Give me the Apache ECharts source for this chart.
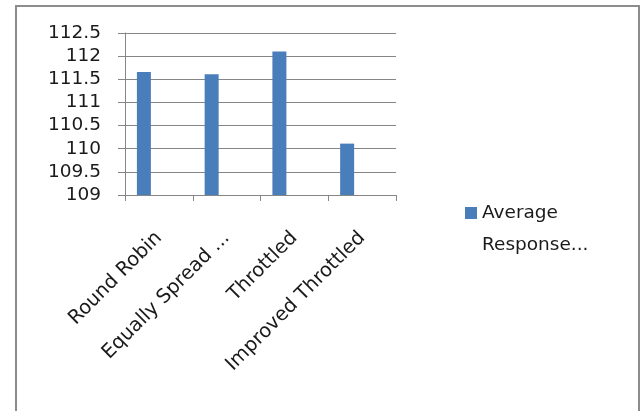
<!DOCTYPE html>
<html>
<head>
<meta charset="utf-8">
<script src="https://cdn.jsdelivr.net/npm/echarts@6/dist/echarts.min.js"></script>
<style>
html,body{margin:0;padding:0;background:#fff;}
#c{width:641px;height:411px;}
</style>
</head>
<body>
<div id="c"></div>
<script>
var categories = ['Round Robin', 'Equally Spread ...', 'Throttled', 'Improved Throttled'];
var seriesName = 'Average Response...';
var legendLines = ['Average', 'Response...'];
var responseValues = [111.66, 111.61, 112.1, 110.11];
var emptySlot = [null, null, null, null];
var yMin = 109, yMax = 112.5, yStep = 0.5;

var chart = echarts.init(document.getElementById('c'), null, {renderer: 'canvas'});
var font = 'DejaVu Sans';
chart.setOption({
  animation: false,
  backgroundColor: '#ffffff',
  graphic: [{
    type: 'rect',
    shape: {x: 16, y: 6, width: 623, height: 420},
    style: {fill: 'none', stroke: '#8c8c8c', lineWidth: 2},
    silent: true,
    z: -1
  }],
  grid: {left: 125, right: 245, top: 33, bottom: 216, containLabel: false},
  legend: {
    data: [seriesName],
    left: 460,
    top: 160,
    orient: 'vertical',
    itemWidth: 12,
    itemHeight: 12,
    icon: 'rect',
    formatter: function () { return ' \n' + legendLines.join('\n'); },
    textStyle: {fontFamily: font, fontSize: 18.5, color: '#1a1a1a', lineHeight: 32}
  },
  xAxis: {
    type: 'category',
    data: categories,
    axisLine: {lineStyle: {color: '#868686', width: 1}},
    axisTick: {show: true, length: 6, lineStyle: {color: '#868686'}},
    axisLabel: {rotate: 45, margin: 40, interval: 0, fontFamily: font, fontSize: 19.5, color: '#1a1a1a'}
  },
  yAxis: {
    type: 'value',
    min: yMin,
    max: yMax,
    interval: yStep,
    axisLine: {show: true, lineStyle: {color: '#868686', width: 1}},
    axisTick: {show: true, length: 7, lineStyle: {color: '#868686'}},
    splitLine: {lineStyle: {color: '#868686', width: 1}},
    axisLabel: {margin: 24, fontFamily: font, fontSize: 18.5, color: '#1a1a1a'}
  },
  series: [{
    name: seriesName,
    type: 'bar',
    data: responseValues,
    barWidth: 14,
    barGap: '114%',
    itemStyle: {color: '#4a7ebb'}
  }, {
    name: 'spacer',
    type: 'bar',
    data: emptySlot,
    barWidth: 14,
    itemStyle: {color: 'rgba(0,0,0,0)'}
  }]
});
</script>
</body>
</html>
